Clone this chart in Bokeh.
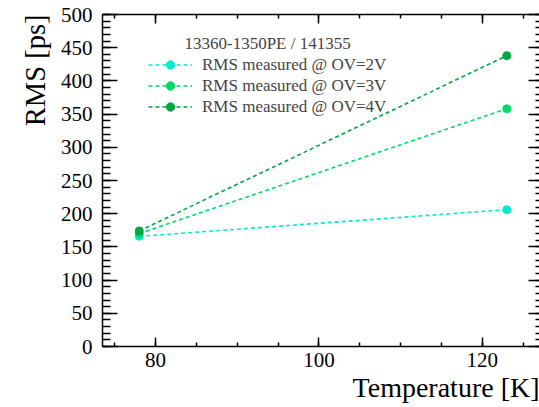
from bokeh.plotting import figure
from bokeh.models import (LinearAxis, Range1d, Legend, LegendItem, Label, Title,
                          SingleIntervalTicker, ColumnDataSource,
                          CustomJSTickFormatter)
from bokeh.embed import file_html
from bokeh.resources import INLINE

# ---- data ----
temperature = [78, 123]
rms_ov2 = [166, 206]
rms_ov3 = [170, 358]
rms_ov4 = [174, 438]
labels = ["RMS measured @ OV=2V", "RMS measured @ OV=3V", "RMS measured @ OV=4V"]
colors = ["#00eec8", "#00d868", "#00a840"]
header = "13360-1350PE / 141355"
x_title = "Temperature [K]"
y_title = "RMS [ps]"

FONT = "Liberation Serif"

p = figure(width=539, height=407, output_backend="svg", toolbar_location=None,
           x_range=Range1d(73.5, 127.0), y_range=Range1d(0, 500),
           min_border_left=102, min_border_right=0, min_border_top=14,
           min_border_bottom=61, x_axis_location=None, y_axis_location=None)
p.xgrid.visible = False
p.ygrid.visible = False
p.outline_line_color = None
p.background_fill_color = "white"
p.border_fill_color = "white"

def style_axis(ax, tick_in, minor_in, labels_on):
    ax.axis_line_color = "black"
    ax.axis_line_width = 1.5
    ax.major_tick_line_color = "black"
    ax.minor_tick_line_color = "black"
    ax.major_tick_line_width = 1.5
    ax.minor_tick_line_width = 1.5
    ax.major_tick_in = tick_in
    ax.major_tick_out = 0
    ax.minor_tick_in = minor_in
    ax.minor_tick_out = 0
    ax.major_label_text_font = FONT
    ax.major_label_text_color = "black"
    ax.major_label_text_font_size = "21px"
    if not labels_on:
        ax.formatter = CustomJSTickFormatter(code="return ''")
        ax.major_label_standoff = 0

xb = LinearAxis(ticker=SingleIntervalTicker(interval=20, num_minor_ticks=4))
style_axis(xb, 9, 4, True)
xb.major_label_standoff = 6
p.add_layout(xb, "below")

xt = LinearAxis(ticker=SingleIntervalTicker(interval=20, num_minor_ticks=4))
style_axis(xt, 9, 4, False)
p.add_layout(xt, "above")

yl = LinearAxis(ticker=SingleIntervalTicker(interval=50, num_minor_ticks=5))
style_axis(yl, 15, 8, True)
yl.major_label_standoff = 10
p.add_layout(yl, "left")

yr = LinearAxis(ticker=SingleIntervalTicker(interval=50, num_minor_ticks=5))
style_axis(yr, 11, 4, False)
yr.axis_line_alpha = 0
p.add_layout(yr, "right")

items = []
for vals, lab, col in zip([rms_ov2, rms_ov3, rms_ov4], labels, colors):
    src = ColumnDataSource(dict(x=temperature, y=vals))
    lr = p.line("x", "y", source=src, line_color=col, line_width=1.6,
                line_dash="4 3")
    sr = p.scatter("x", "y", source=src, size=8, fill_color=col,
                   line_color=col, marker="circle")
    items.append(LegendItem(label=lab, renderers=[lr, sr]))

legend = Legend(items=items, location=(46, 229), padding=0, margin=0,
                spacing=0, glyph_width=44, glyph_height=21, label_height=21,
                label_standoff=10, label_text_font=FONT,
                label_text_font_size="17px", label_text_baseline="middle",
                border_line_alpha=0, background_fill_alpha=0)
p.add_layout(legend, "center")

p.add_layout(Label(x=82, y=303, x_units="screen", y_units="screen", text=header,
                   text_font=FONT, text_font_size="17px",
                   text_baseline="middle", text_align="left"))

tx = Title(text=x_title, align="right", text_font=FONT, text_font_size="28px",
           text_font_style="normal", text_color="black", standoff=0)
p.add_layout(tx, "below")
ty = Title(text=y_title, align="right", text_font=FONT, text_font_size="28.5px",
           text_font_style="normal", text_color="black", standoff=14)
p.add_layout(ty, "left")

open("out.html", "w").write(file_html(p, INLINE))
